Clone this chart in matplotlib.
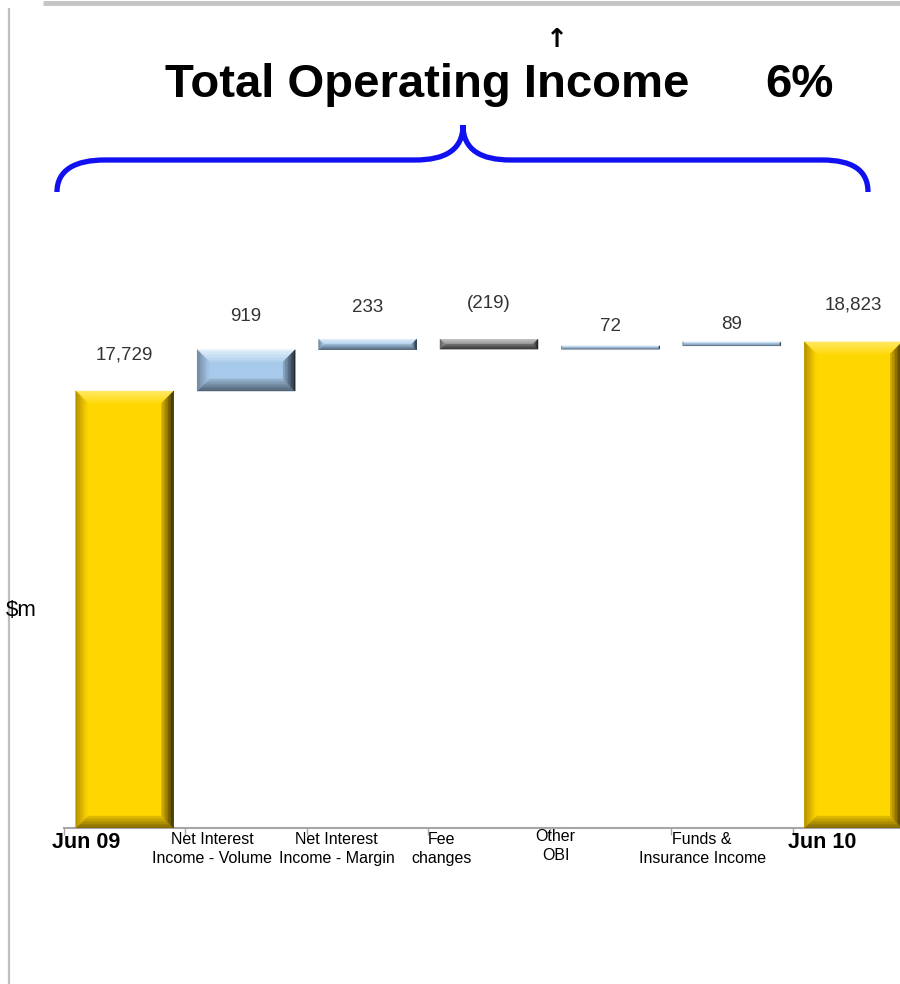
import matplotlib
matplotlib.use('Agg')
import matplotlib.pyplot as plt
from matplotlib.colors import to_rgb
from matplotlib.path import Path
from matplotlib.patches import PathPatch, Polygon
from matplotlib.transforms import blended_transform_factory, offset_copy

plt.rcParams['font.family'] = ['Liberation Sans', 'DejaVu Sans']

# Waterfall data ($m)
categories = ['Jun 09', 'Net Interest\nIncome - Volume', 'Net Interest\nIncome - Margin',
              'Fee\nchanges', 'Other\nOBI', 'Funds &\nInsurance Income', 'Jun 10']
opening = 17729
changes = [919, 233, -219, 72, 89]
closing = 18823
y_min, y_max = 8000, 20000

# Layout in pixels (figure is 900 x 984)
W, H = 900, 984
AX_LEFT, AX_RIGHT, AX_BOTTOM, AX_TOP = 64, 914, 828, 289
label_pad_px = [36, 33, 32, 36, 19, 17, 37]
tick_label_shift_px = [22, 27, 30, 13, 6, 31, 30]
tick_label_top_px = [4, 4, 4, 4, 1, 4, 4]

# bevel styles: face colour plus (edge, inner) colour of each bevel side
YELLOW = dict(face='#FFD700',
              top=('#FFEA6A', '#FFDA10'), left=('#B08C00', '#FFD600'),
              right=('#2E2400', '#D8B000'), bottom=('#7A6200', '#E4BE00'))
BLUE = dict(face='#A7C9EA',
            top=('#E6F3FC', '#B2D1EE'), left=('#6C849C', '#A8C8E8'),
            right=('#18222C', '#8CA8C4'), bottom=('#4C5E70', '#98B4D0'))
GREY = dict(face='#8C8C8C',
            top=('#C8C8C8', '#999999'), left=('#606060', '#8C8C8C'),
            right=('#101010', '#707070'), bottom=('#303030', '#707070'))


def fmt(v):
    return '({:,})'.format(-v) if v < 0 else '{:,}'.format(v)


def mix(c1, c2, t):
    a, b = to_rgb(c1), to_rgb(c2)
    return tuple(a[i] + (b[i] - a[i]) * t for i in range(3))


# Build the waterfall segments
segments = [(y_min, opening)]
running = opening
for c in changes:
    segments.append((running, running + c))
    running += c
segments.append((y_min, closing))
values = [opening] + changes + [closing]
styles = [YELLOW] + [BLUE if c >= 0 else GREY for c in changes] + [YELLOW]

fig = plt.figure(figsize=(W / 100, H / 100), dpi=100)
ax = fig.add_axes([AX_LEFT / W, 1 - AX_BOTTOM / H, (AX_RIGHT - AX_LEFT) / W, (AX_BOTTOM - AX_TOP) / H])
ax.set_xlim(-0.5, len(categories) - 0.5)
ax.set_ylim(y_min, y_max)

px_x = (AX_RIGHT - AX_LEFT) / len(categories)
px_y = (AX_BOTTOM - AX_TOP) / (y_max - y_min)
bar_w = 98 / px_x
bev = 12
steps = 8


def bevel_bar(x, y0, y1, st):
    lo, hi = min(y0, y1), max(y0, y1)
    x0, x1 = x - bar_w / 2, x + bar_w / 2
    by_full = min(bev / px_y, (hi - lo) / 2)
    bx_full = by_full * px_y / px_x
    ax.bar(x, hi - lo, bottom=lo, width=bar_w, color=st['face'], linewidth=0, zorder=2)
    for k in range(steps):
        t0, t1 = k / steps, (k + 1) / steps
        a0, a1 = bx_full * t0, bx_full * t1
        b0, b1 = by_full * t0, by_full * t1
        sides = {
            'top': [(x0 + a0, hi - b0), (x1 - a0, hi - b0), (x1 - a1, hi - b1), (x0 + a1, hi - b1)],
            'bottom': [(x0 + a0, lo + b0), (x1 - a0, lo + b0), (x1 - a1, lo + b1), (x0 + a1, lo + b1)],
            'left': [(x0 + a0, lo + b0), (x0 + a0, hi - b0), (x0 + a1, hi - b1), (x0 + a1, lo + b1)],
            'right': [(x1 - a0, lo + b0), (x1 - a0, hi - b0), (x1 - a1, hi - b1), (x1 - a1, lo + b1)],
        }
        for name, pts in sides.items():
            col = mix(st[name][0], st[name][1], (k + 0.5) / steps)
            ax.add_patch(Polygon(pts, closed=True, facecolor=col, edgecolor=col,
                                 lw=0.3, zorder=3))


for i, ((y0, y1), st) in enumerate(zip(segments, styles)):
    bevel_bar(i, y0, y1, st)
    tr = offset_copy(ax.transData, fig=fig, y=label_pad_px[i] * 0.72, units='points')
    ax.text(i, max(y0, y1), fmt(values[i]), transform=tr, ha='center', va='center',
            fontsize=13.5, color='#333333', clip_on=False)

# Axis: only the baseline with boundary ticks
for s in ['left', 'right', 'top']:
    ax.spines[s].set_visible(False)
ax.spines['bottom'].set_color('#A6A6A6')
ax.spines['bottom'].set_linewidth(1.5)
ax.spines['bottom'].set_zorder(1)
ax.set_yticks([])
ax.set_xticks([i - 0.5 for i in range(len(categories))])
ax.set_xticklabels([])
ax.tick_params(axis='x', direction='out', length=5, width=1, color='#A6A6A6')

trx = blended_transform_factory(ax.transData, ax.transAxes)
for i, lab in enumerate(categories):
    total = lab.startswith('Jun')
    tr = offset_copy(trx, fig=fig, y=-tick_label_top_px[i] * 0.72, units='points')
    ax.text(i - 0.5 + tick_label_shift_px[i] / px_x, 0, lab, transform=tr,
            ha='center', va='top', fontsize=15.5 if total else 11.5,
            fontweight='bold' if total else 'normal', linespacing=1.3,
            color='black', clip_on=False)

# Overlay in pixel coordinates for frame, brace and title
ov = fig.add_axes([0, 0, 1, 1], zorder=5)
ov.set_xlim(0, W)
ov.set_ylim(H, 0)
ov.axis('off')
ov.patch.set_alpha(0)
ov.plot([43, W], [2.5, 2.5], color='#C4C4C4', lw=3.5, solid_capstyle='butt')
ov.plot([8.5, 8.5], [8, H], color='#BFBFBF', lw=1.6, solid_capstyle='butt')

verts = [(57, 192), (57, 170), (75, 160), (105, 160),
         (415, 160),
         (445, 160), (463, 150), (463, 125),
         (463, 150), (481, 160), (511, 160),
         (822, 160),
         (852, 160), (868, 170), (868, 192)]
codes = [Path.MOVETO, Path.CURVE4, Path.CURVE4, Path.CURVE4,
         Path.LINETO,
         Path.CURVE4, Path.CURVE4, Path.CURVE4,
         Path.CURVE4, Path.CURVE4, Path.CURVE4,
         Path.LINETO,
         Path.CURVE4, Path.CURVE4, Path.CURVE4]
ov.add_patch(PathPatch(Path(verts, codes), facecolor='none', edgecolor='#1010F0', lw=3.8))

ov.text(165, 97, 'Total Operating Income', fontsize=34, fontweight='bold', ha='left', va='baseline')
ov.text(765, 97, '6%', fontsize=34, fontweight='bold', ha='left', va='baseline')
ov.text(557, 40, '\u2191', fontsize=19, fontweight='bold', ha='center', va='center',
        family=['DejaVu Sans'])
ov.text(6, 610, '$m', fontsize=16, ha='left', va='center')

fig.savefig('out.png', dpi=100)
